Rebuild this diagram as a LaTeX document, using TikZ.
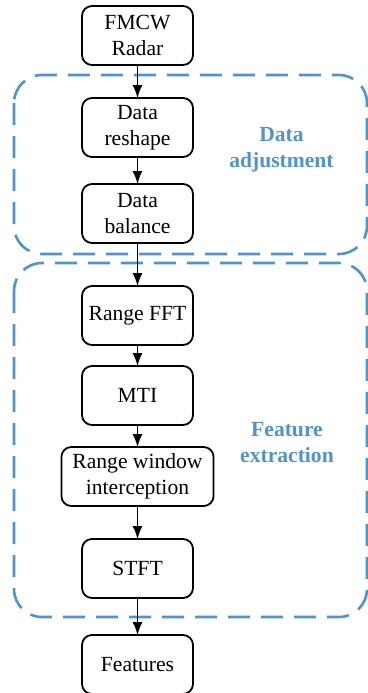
\documentclass[tikz,border=0pt]{standalone}
\usepackage{fontspec}
\setmainfont{Liberation Serif}
\usepackage{xcolor}
\usetikzlibrary{arrows.meta,positioning}
\definecolor{groupblue}{HTML}{4F93D3}
\tikzset{%
  arrow/.style={line width=0.75pt,-{Latex[length=6.5pt,width=5pt]}},
  stage/.style={draw,line width=0.9pt,rounded corners=5pt,align=center,minimum width=55.5pt,minimum height=29.5pt,inner xsep=3pt,inner ysep=2pt,outer sep=0pt,font=\fontsize{10.8}{13}\selectfont},
  group/.style={draw=groupblue,line width=1.3pt,dash pattern=on 11pt off 5.5pt,rounded corners=14pt},
  grouplabel/.style={text=groupblue,align=center,font=\fontsize{10.8}{13}\selectfont\bfseries},
}

\begin{document}
\begin{tikzpicture}
      \useasboundingbox (0,0) rectangle (184pt,-346.5pt);
      \node[stage] (radar) at (68.75pt,-17.75pt) {FMCW\\Radar};
      \node[stage,below=16.5pt of radar] (reshape) {Data\\reshape};
      \node[stage,below=13.5pt of reshape] (balance) {Data\\balance};
      \node[stage,below=21.5pt of balance] (rfft) {Range FFT};
      \node[stage,below=10.5pt of rfft] (mti) {MTI};
      \node[stage,below=11pt of mti,inner xsep=5.5pt] (window) {Range window\\interception};
      \node[stage,below=16.5pt of window] (stft) {STFT};
      \node[stage,below=18.5pt of stft] (features) {Features};

      \draw[group] (7pt,-37.5pt) rectangle (183.5pt,-127pt);
      \draw[group] (7pt,-131.5pt) rectangle (183.5pt,-308.5pt);
      \node[grouplabel] (adjust) at (140.75pt,-75pt) {Data\\adjustment};
      \node[grouplabel] (extract) at (143.5pt,-221.5pt) {Feature\\extraction};

      \draw[arrow] (radar) -- (reshape);
      \draw[arrow] (reshape) -- (balance);
      \draw[arrow] (balance) -- (rfft);
      \draw[arrow] (rfft) -- (mti);
      \draw[arrow] (mti) -- (window);
      \draw[arrow] (window) -- (stft);
      \draw[arrow] (stft) -- (features);
\end{tikzpicture}
\end{document}
